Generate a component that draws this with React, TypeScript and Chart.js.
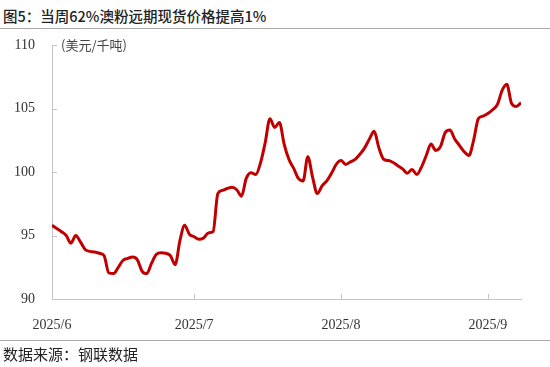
import React, { useEffect, useRef } from 'react';
import { Chart, registerables } from 'chart.js';

Chart.register(...registerables);

// Day offset from 2025-06-01
const days = [
  0, 1, 2, 3, 4, 5, 6, 7, 8, 9, 10, 11, 12, 13, 14, 15, 16, 17, 18, 19,
  20, 21, 22, 23, 24, 25, 26, 27, 28, 29, 30, 31, 32, 33, 34, 35, 36, 37, 38, 39,
  40, 41, 42, 43, 44, 45, 46, 47, 48, 49, 50, 51, 52, 53, 54, 55, 56, 57, 58, 59,
  60, 61, 62, 63, 64, 65, 66, 67, 68, 69, 70, 71, 72, 73, 74, 75, 76, 77, 78, 79,
  80, 81, 82, 83, 84, 85, 86, 87, 88, 89, 90, 91, 92, 93, 94, 95, 96, 97, 98, 99,
];

const prices = [
  95.8, 95.55, 95.3, 95.0, 94.4, 95.0, 94.5, 93.9, 93.75, 93.7,
  93.6, 93.4, 92.05, 92.0, 92.5, 93.05, 93.2, 93.3, 93.1, 92.2,
  92.0, 92.8, 93.5, 93.65, 93.6, 93.4, 92.7, 94.6, 95.8, 95.1,
  94.9, 94.7, 94.8, 95.2, 95.3, 98.3, 98.55, 98.7, 98.8, 98.6,
  98.1, 99.5, 99.95, 99.8, 100.7, 102.3, 104.2, 103.5, 103.9, 102.2,
  101.0, 100.3, 99.5, 99.3, 101.2, 99.6, 98.3, 98.9, 99.3, 99.9,
  100.6, 100.9, 100.6, 100.8, 101.0, 101.4, 101.9, 102.6, 103.2, 101.9,
  101.0, 100.9, 100.75, 100.5, 100.25, 99.9, 100.2, 99.8, 100.4, 101.3,
  102.2, 101.7, 102.0, 103.1, 103.3, 102.6, 102.1, 101.6, 101.3, 102.5,
  104.2, 104.4, 104.6, 104.9, 105.3, 106.4, 106.9, 105.4, 105.15, 105.45,
];

const yTickValues = [90, 95, 100, 105, 110];
const monthTickDays = [0, 30, 61, 92];
const monthTickLabels = ['2025/6', '2025/7', '2025/8', '2025/9'];

const titleText = '图5：当周62%澳粉远期现货价格提高1%';
const unitText = '(美元/千吨)';
const sourceText = '数据来源：钢联数据';

const AXIS_COLOR = '#c4c4c4';

const innerTicks = {
  id: 'innerTicks',
  beforeDatasetsDraw(chart: any) {
    const { ctx, chartArea, scales } = chart;
    const xs = scales.x;
    const ys = scales.y;
    ctx.save();
    ctx.strokeStyle = AXIS_COLOR;
    ctx.lineWidth = 1;
    ctx.beginPath();
    yTickValues.forEach((v) => {
      if (v === 90) return;
      const y = Math.round(ys.getPixelForValue(v)) + 0.5;
      ctx.moveTo(chartArea.left, y);
      ctx.lineTo(chartArea.left + 5, y);
    });
    monthTickDays.forEach((d) => {
      if (d === 0) return;
      const x = Math.round(xs.getPixelForValue(d)) + 0.5;
      ctx.moveTo(x, chartArea.bottom);
      ctx.lineTo(x, chartArea.bottom - 5);
    });
    ctx.stroke();
    ctx.restore();
  },
};

export default function App() {
  const canvasRef = useRef<HTMLCanvasElement | null>(null);

  useEffect(() => {
    const canvas = canvasRef.current;
    if (!canvas) return;
    const chart = new Chart(canvas, {
      type: 'line',
      data: {
        datasets: [
          {
            data: days.map((d, i) => ({ x: d, y: prices[i] })),
            borderColor: '#c00000',
            borderWidth: 3,
            pointRadius: 0,
            cubicInterpolationMode: 'monotone',
            fill: false,
          },
        ],
      },
      options: {
        animation: false,
        responsive: false,
        devicePixelRatio: 1,
        layout: { padding: { left: 0, top: 45, right: 29, bottom: 38 } },
        plugins: {
          legend: { display: false },
          tooltip: { enabled: false },
          title: { display: false },
        },
        scales: {
          x: {
            type: 'linear',
            min: 0,
            max: 99,
            afterBuildTicks: (s: any) => {
              s.ticks = monthTickDays.map((v) => ({ value: v }));
            },
            afterFit: (s: any) => {
              s.height = 30;
            },
            ticks: {
              autoSkip: false,
              maxRotation: 0,
              padding: 10,
              color: '#333',
              font: { family: '"Liberation Serif", "Times New Roman", serif', size: 14 },
              callback: (v: any) => {
                const idx = monthTickDays.indexOf(Number(v));
                return idx >= 0 ? monthTickLabels[idx] : '';
              },
            },
            grid: { display: false },
            border: { display: true, color: AXIS_COLOR, width: 1 },
          },
          y: {
            min: 90,
            max: 110,
            afterBuildTicks: (s: any) => {
              s.ticks = yTickValues.map((v) => ({ value: v }));
            },
            afterFit: (s: any) => {
              s.width = 52;
            },
            ticks: {
              padding: 9,
              color: '#333',
              font: { family: '"Liberation Serif", "Times New Roman", serif', size: 14 },
            },
            grid: { display: false },
            border: { display: true, color: AXIS_COLOR, width: 1 },
          },
        },
      },
      plugins: [innerTicks],
    } as any);
    return () => chart.destroy();
  }, []);

  return (
    <div
      style={{
        position: 'absolute',
        left: 0,
        top: 0,
        width: 550,
        height: 367,
        background: '#fff',
        overflow: 'hidden',
      }}
    >
      <div
        style={{
          position: 'absolute',
          left: 3,
          top: 5,
          fontFamily: '"Noto Sans CJK SC", sans-serif',
          fontSize: 14.5,
          fontWeight: 500,
          color: '#222',
          whiteSpace: 'nowrap',
          lineHeight: '22px',
        }}
      >
        {titleText}
      </div>
      <div
        style={{
          position: 'absolute',
          left: 0,
          top: 28,
          width: 550,
          height: 0,
          borderTop: '1.5px solid #a8a8a8',
        }}
      />
      <canvas
        ref={canvasRef}
        width={550}
        height={367}
        style={{ position: 'absolute', left: 0, top: 0, width: 550, height: 367 }}
      />
      <div
        style={{
          position: 'absolute',
          left: 61,
          top: 36,
          fontFamily: '"Noto Sans CJK SC", sans-serif',
          fontSize: 13,
          color: '#444',
          whiteSpace: 'nowrap',
          lineHeight: '18px',
        }}
      >
        {unitText}
      </div>
      <div
        style={{
          position: 'absolute',
          left: 0,
          top: 340,
          width: 550,
          height: 0,
          borderTop: '1.5px solid #a8a8a8',
        }}
      />
      <div
        style={{
          position: 'absolute',
          left: 3,
          top: 343,
          fontFamily: '"Noto Sans CJK SC", sans-serif',
          fontSize: 15,
          color: '#222',
          whiteSpace: 'nowrap',
          lineHeight: '22px',
        }}
      >
        {sourceText}
      </div>
    </div>
  );
}
